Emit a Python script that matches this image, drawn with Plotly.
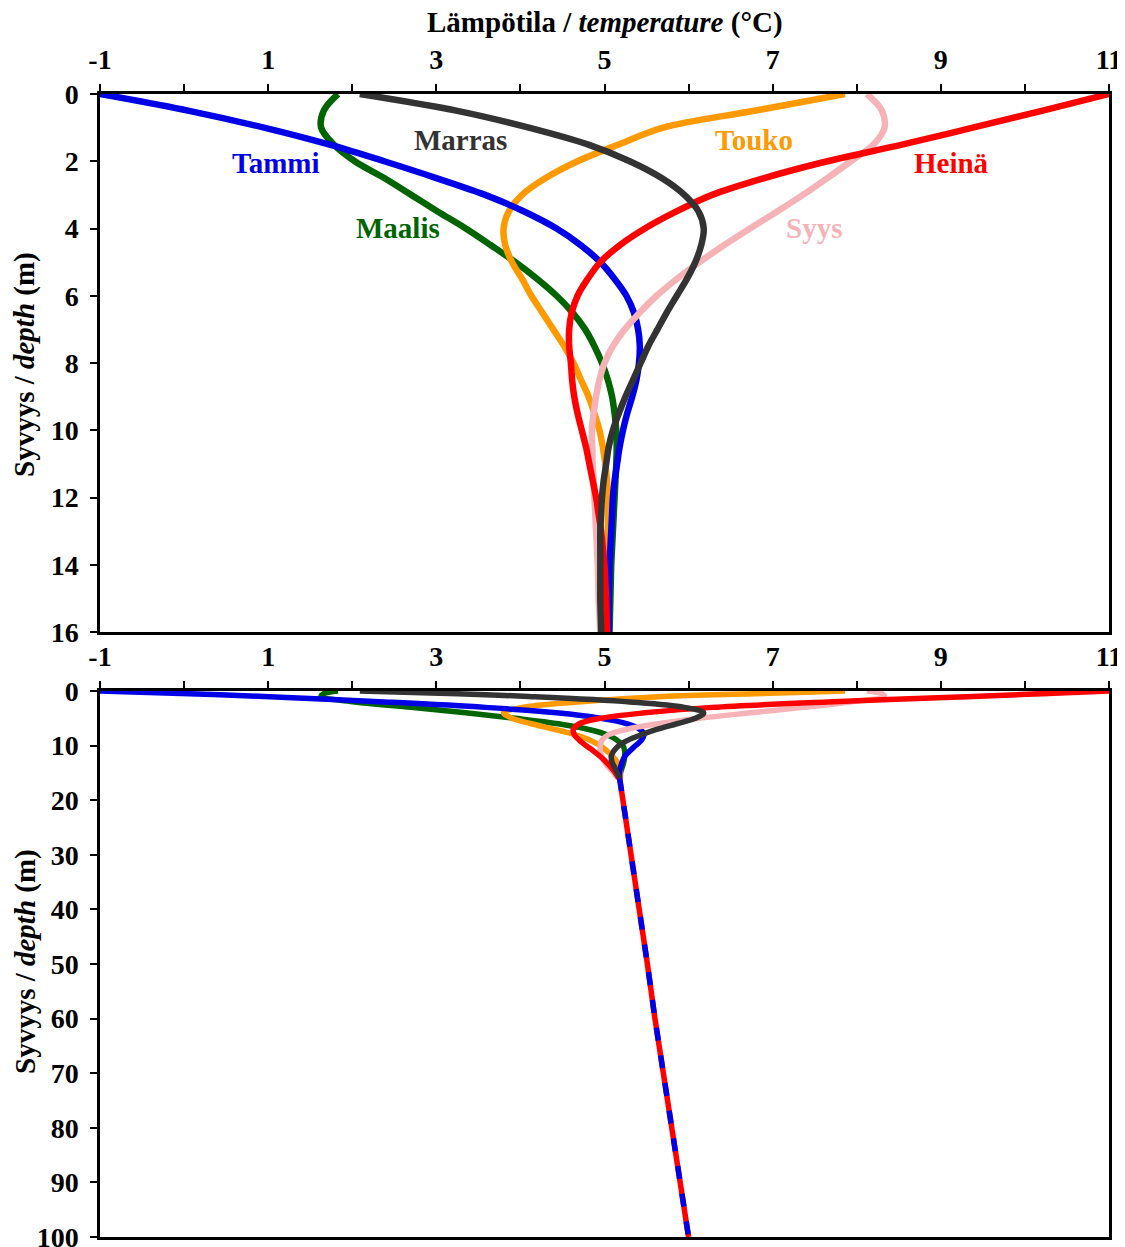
import plotly.graph_objects as go

# ---------------- data ----------------
DEPTH = [0, 0.5, 1, 1.5, 2, 2.5, 3, 3.5, 4, 4.5, 5, 5.5, 6, 6.5, 7, 7.5, 8, 8.5, 9, 9.5,
         10, 10.5, 11, 11.5, 12, 12.5, 13, 13.5, 14, 14.5, 15, 15.5, 16]

TAMMI = [-1.0, 0.06, 0.95, 1.72, 2.38, 3.0, 3.58, 4.05, 4.43, 4.72, 4.95, 5.12, 5.26, 5.35, 5.40, 5.42, 5.41, 5.38, 5.33, 5.27,
         5.22, 5.18, 5.15, 5.12, 5.10, 5.09, 5.08, 5.07, 5.06, 5.055, 5.05, 5.05, 5.05]
MAALIS = [1.83, 1.66, 1.63, 1.78, 2.03, 2.38, 2.7, 3.02, 3.35, 3.65, 3.94, 4.2, 4.43, 4.62, 4.77, 4.88, 4.97, 5.04, 5.09, 5.12,
          5.14, 5.145, 5.14, 5.13, 5.12, 5.11, 5.10, 5.09, 5.08, 5.075, 5.07, 5.065, 5.06]
MARRAS = [2.09, 3.25, 4.1, 4.8, 5.3, 5.68, 5.95, 6.12, 6.18, 6.15, 6.08, 5.98, 5.86, 5.74, 5.63, 5.52, 5.43, 5.34, 5.25, 5.17,
          5.10, 5.05, 5.02, 4.99, 4.97, 4.96, 4.95, 4.95, 4.95, 4.95, 4.95, 4.955, 4.96]
TOUKO = [7.86, 6.78, 5.7, 5.17, 4.68, 4.3, 4.02, 3.86, 3.80, 3.82, 3.90, 4.02, 4.13, 4.26, 4.39, 4.52, 4.63, 4.72, 4.81, 4.88,
         4.94, 4.98, 5.01, 5.03, 5.04, 5.04, 5.04, 5.04, 5.04, 5.035, 5.03, 5.03, 5.03]
HEINA = [11.0, 10.2, 9.38, 8.55, 7.65, 6.9, 6.28, 5.85, 5.48, 5.18, 4.95, 4.8, 4.68, 4.61, 4.58, 4.58, 4.60, 4.615, 4.64, 4.68,
         4.73, 4.78, 4.82, 4.86, 4.90, 4.93, 4.96, 4.98, 5.0, 5.01, 5.02, 5.025, 5.03]
SYYS = [8.12, 8.30, 8.33, 8.2, 7.93, 7.65, 7.36, 7.05, 6.73, 6.42, 6.13, 5.86, 5.62, 5.42, 5.24, 5.10, 5.0, 4.94, 4.9, 4.87,
        4.85, 4.855, 4.86, 4.87, 4.88, 4.89, 4.9, 4.91, 4.92, 4.925, 4.93, 4.94, 4.95]

# lower panel (0-100 m)
DEPTH_B = [0, 0.5, 1, 2, 3, 4, 5, 6, 7, 8, 9, 10, 11, 12, 13, 14, 15, 16]
TAMMI_B = [-1.0, 0.06, 0.95, 2.38, 3.58, 4.43, 4.95, 5.27, 5.42, 5.47, 5.44, 5.37, 5.30, 5.24, 5.21, 5.19, 5.18, 5.18]
MAALIS_B = [1.83, 1.66, 1.63, 2.03, 2.7, 3.35, 3.94, 4.45, 4.8, 5.03, 5.15, 5.22, 5.24, 5.24, 5.23, 5.21, 5.19, 5.18]
MARRAS_B = [2.09, 3.25, 4.1, 5.3, 5.95, 6.18, 6.08, 5.86, 5.63, 5.44, 5.28, 5.17, 5.11, 5.08, 5.09, 5.12, 5.15, 5.18]
TOUKO_B = [7.86, 6.78, 5.7, 4.68, 4.02, 3.80, 3.90, 4.13, 4.40, 4.65, 4.83, 4.95, 5.03, 5.10, 5.15, 5.18, 5.19, 5.19]
HEINA_B = [11.0, 10.2, 9.38, 7.65, 6.28, 5.48, 4.95, 4.70, 4.63, 4.64, 4.70, 4.78, 4.87, 4.95, 5.02, 5.08, 5.13, 5.17]
SYYS_B = [8.12, 8.30, 8.33, 7.93, 7.36, 6.73, 6.13, 5.64, 5.27, 5.05, 4.97, 4.95, 4.95, 4.97, 5.0, 5.05, 5.11, 5.16]

DEEP_DEPTH = [16, 20, 30, 40, 50, 60, 70, 80, 90, 100]
DEEP_TEMP = [5.18, 5.22, 5.31, 5.41, 5.51, 5.60, 5.70, 5.80, 5.90, 6.0]

X_TICKS = list(range(-1, 12))
X_TICKTEXT = [str(v) if v % 2 != 0 else "" for v in X_TICKS]
Y1_TICKS = list(range(0, 17, 2))
Y2_TICKS = list(range(0, 101, 10))

NAMES = ["Maalis", "Touko", "Tammi", "Syys", "Heinä", "Marras"]
COLORS = {"Tammi": "#0000E6", "Maalis": "#006400", "Marras": "#333333",
          "Touko": "#FF9900", "Heinä": "#FF0000", "Syys": "#F5B3B8"}
TOP = {"Tammi": TAMMI, "Maalis": MAALIS, "Marras": MARRAS, "Touko": TOUKO, "Heinä": HEINA, "Syys": SYYS}
BOT = {"Tammi": TAMMI_B, "Maalis": MAALIS_B, "Marras": MARRAS_B, "Touko": TOUKO_B, "Heinä": HEINA_B, "Syys": SYYS_B}

# label positions (temperature, depth)
LABELS = {"Tammi": (1.09, 2.05), "Marras": (3.29, 1.37), "Maalis": (2.54, 3.99),
          "Touko": (6.78, 1.37), "Heinä": (9.13, 2.05), "Syys": (7.49, 3.99)}

FONT = "Liberation Serif"
OFF = 8  # page body margin of the browser
W, H = 1125, 1247


def px(v):
    return (v - OFF) / W


def py(v):
    return 1 - (v - OFF) / H


fig = go.Figure()
for n in NAMES:
    fig.add_trace(go.Scatter(x=TOP[n], y=DEPTH, mode="lines", name=n,
                             line=dict(color=COLORS[n], width=6.5, shape="spline", smoothing=1),
                             xaxis="x", yaxis="y"))
for n in NAMES:
    fig.add_trace(go.Scatter(x=BOT[n], y=DEPTH_B, mode="lines", name=n,
                             line=dict(color=COLORS[n], width=5.5, shape="spline", smoothing=1),
                             xaxis="x2", yaxis="y2"))
fig.add_trace(go.Scatter(x=DEEP_TEMP, y=DEEP_DEPTH, mode="lines",
                         line=dict(color="#FF0000", width=5.5), xaxis="x2", yaxis="y2"))
fig.add_trace(go.Scatter(x=DEEP_TEMP, y=DEEP_DEPTH, mode="lines",
                         line=dict(color="#0000E6", width=5.5, dash="13px,15px"), xaxis="x2", yaxis="y2"))

tickfont = dict(family=FONT, size=28, color="black", weight="bold")
xdom = [px(100), px(1109)]
common_x = dict(range=[-1, 11], side="top", tickvals=X_TICKS, ticktext=X_TICKTEXT,
                ticks="outside", ticklen=7, tickwidth=2, tickcolor="black",
                showline=True, linecolor="black", linewidth=2.5, mirror=True,
                showgrid=False, zeroline=False, tickfont=tickfont, domain=xdom,
                automargin=False, ticklabelstandoff=4, ticklabeloverflow="allow")
common_y = dict(ticks="outside", ticklen=7, tickwidth=2, tickcolor="black",
                showline=True, linecolor="black", linewidth=2.5, mirror=True,
                showgrid=False, zeroline=False, tickfont=tickfont, automargin=False,
                ticklabelstandoff=6, ticklabeloverflow="allow")

fig.update_layout(
    width=W, height=H, margin=dict(l=0, r=0, t=0, b=0, autoexpand=False),
    paper_bgcolor="white", plot_bgcolor="white", showlegend=False,
    xaxis=dict(anchor="y", **common_x),
    xaxis2=dict(anchor="y2", **common_x),
    yaxis=dict(anchor="x", range=[16, 0], tickvals=Y1_TICKS,
               domain=[py(632), py(94)], **common_y),
    yaxis2=dict(anchor="x2", range=[100, 0], tickvals=Y2_TICKS,
                domain=[py(1237), py(691)], **common_y),
)

annos = []
for n, (tx, dy) in LABELS.items():
    annos.append(dict(x=tx, y=dy, xref="x", yref="y", text="<b>%s</b>" % n, showarrow=False,
                      xanchor="center", yanchor="middle",
                      font=dict(family=FONT, size=29, color=COLORS[n])))
annos.append(dict(x=px(605), y=py(22), xref="paper", yref="paper",
                  xanchor="center", yanchor="middle",
                  text="<b>Lämpötila / <i>temperature</i> (°C)</b>", showarrow=False,
                  font=dict(family=FONT, size=29, color="black")))
for yc in (365, 962):
    annos.append(dict(x=px(25), y=py(yc), xref="paper", yref="paper", textangle=-90,
                      xanchor="center", yanchor="middle",
                      text="<b>Syvyys / <i>depth</i> (m)</b>", showarrow=False,
                      font=dict(family=FONT, size=29, color="black")))
fig.update_layout(annotations=annos)

fig.write_html("out.html")
